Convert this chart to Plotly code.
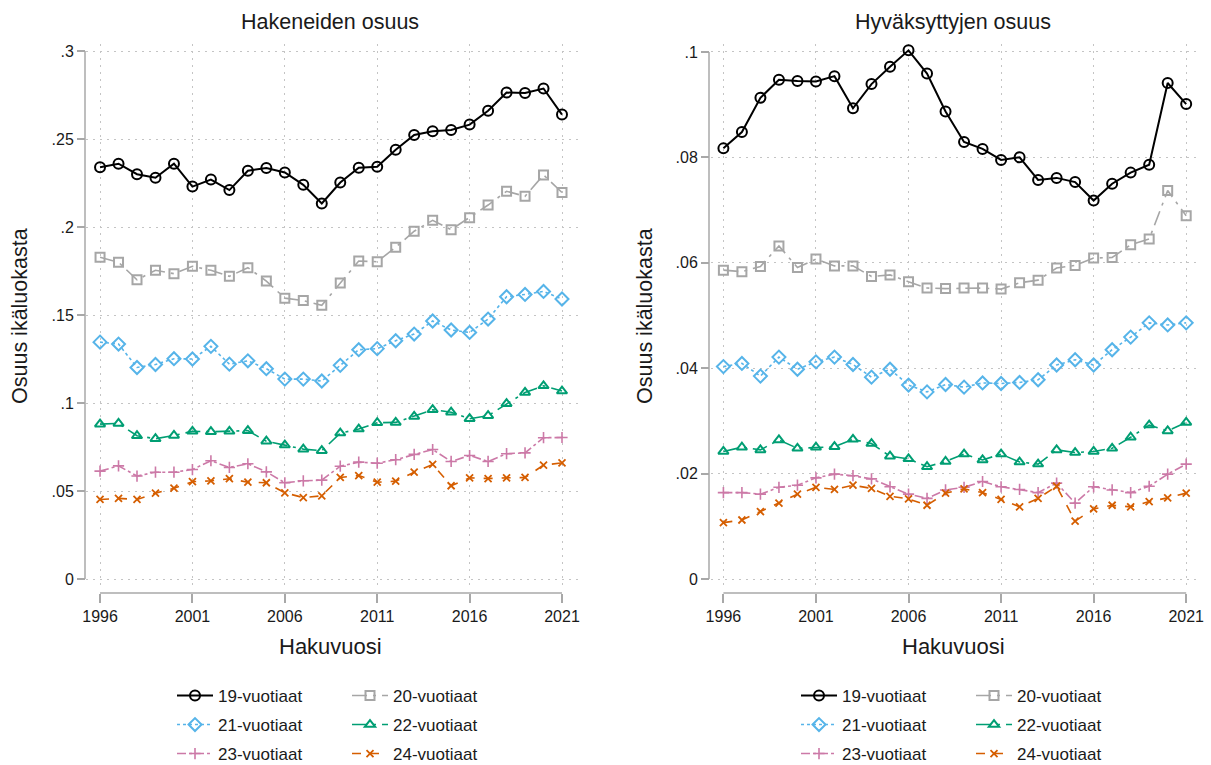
import plotly.graph_objects as go

W, H = 1211, 765

years = list(range(1996, 2022))
labels = ["19-vuotiaat", "20-vuotiaat", "21-vuotiaat", "22-vuotiaat", "23-vuotiaat", "24-vuotiaat"]

# Hakeneiden osuus (left panel)
hak_19 = [0.234, 0.236, 0.230, 0.228, 0.236, 0.223, 0.227, 0.221, 0.232, 0.2335, 0.231, 0.224, 0.2134,
          0.2253, 0.2337, 0.2343, 0.2439, 0.2523, 0.2544, 0.2551, 0.2582, 0.2661, 0.2764, 0.2762, 0.2787, 0.2639]
hak_20 = [0.1828, 0.180, 0.170, 0.1754, 0.1735, 0.1777, 0.1754, 0.172, 0.1769, 0.1693, 0.1596, 0.1582, 0.1555,
          0.1682, 0.1807, 0.1803, 0.1885, 0.1976, 0.2038, 0.1985, 0.2053, 0.2125, 0.2203, 0.2175, 0.2296, 0.2196]
hak_21 = [0.1346, 0.1335, 0.1202, 0.1219, 0.1252, 0.125, 0.1322, 0.1221, 0.124, 0.1195, 0.1136, 0.1136, 0.1125,
          0.1214, 0.1303, 0.1309, 0.1354, 0.1392, 0.1466, 0.1415, 0.1401, 0.1477, 0.1604, 0.1617, 0.1634, 0.1591]
hak_22 = [0.088, 0.0884, 0.0814, 0.0797, 0.0816, 0.0839, 0.0837, 0.0839, 0.0843, 0.0783, 0.0761, 0.0738, 0.0729,
          0.0829, 0.0852, 0.0888, 0.089, 0.0924, 0.0962, 0.0948, 0.0911, 0.0928, 0.0996, 0.106, 0.1098, 0.1068]
hak_23 = [0.0613, 0.0643, 0.0585, 0.0607, 0.0607, 0.0622, 0.0672, 0.0634, 0.0655, 0.0609, 0.0547, 0.0558, 0.0562,
          0.0641, 0.0664, 0.0658, 0.0678, 0.0708, 0.0736, 0.0668, 0.0702, 0.0668, 0.0712, 0.0717, 0.0803, 0.0804]
hak_24 = [0.0452, 0.0458, 0.0452, 0.0488, 0.0516, 0.0553, 0.0558, 0.057, 0.055, 0.0547, 0.049, 0.0463, 0.0473,
          0.0577, 0.0588, 0.055, 0.0556, 0.0607, 0.0651, 0.053, 0.0575, 0.0571, 0.0575, 0.0577, 0.0647, 0.066]

# Hyväksyttyjen osuus (right panel)
hyv_19 = [0.0817, 0.0848, 0.0913, 0.0947, 0.0945, 0.0944, 0.0954, 0.0893, 0.0939, 0.0972, 0.1003, 0.0959, 0.0887,
          0.0829, 0.0816, 0.0795, 0.0800, 0.0757, 0.0761, 0.0753, 0.0718, 0.0750, 0.0771, 0.0786, 0.0941, 0.0901]
hyv_20 = [0.0586, 0.0583, 0.0593, 0.0632, 0.0591, 0.0607, 0.0594, 0.0594, 0.0574, 0.0577, 0.0564, 0.0552, 0.0551,
          0.0552, 0.0552, 0.0550, 0.0562, 0.0567, 0.0590, 0.0595, 0.0609, 0.0610, 0.0634, 0.0645, 0.0737, 0.0689]
hyv_21 = [0.0403, 0.0409, 0.0385, 0.0421, 0.0398, 0.0412, 0.0421, 0.0407, 0.0383, 0.0398, 0.0368, 0.0355, 0.0369,
          0.0364, 0.0372, 0.0371, 0.0373, 0.0378, 0.0406, 0.0416, 0.0406, 0.0435, 0.0459, 0.0486, 0.0482, 0.0486]
hyv_22 = [0.0242, 0.0250, 0.0245, 0.0264, 0.0248, 0.0250, 0.0251, 0.0265, 0.0257, 0.0233, 0.0228, 0.0213, 0.0223,
          0.0237, 0.0226, 0.0237, 0.0222, 0.0218, 0.0245, 0.0240, 0.0242, 0.0248, 0.0269, 0.0292, 0.0281, 0.0297]
hyv_23 = [0.0164, 0.0164, 0.0161, 0.0174, 0.0178, 0.0192, 0.0199, 0.0196, 0.0190, 0.0175, 0.0161, 0.0153, 0.0169,
          0.0174, 0.0185, 0.0175, 0.0170, 0.0164, 0.0182, 0.0144, 0.0175, 0.0169, 0.0164, 0.0176, 0.0199, 0.0218]
hyv_24 = [0.0107, 0.0112, 0.0128, 0.0144, 0.0161, 0.0174, 0.0170, 0.0178, 0.0172, 0.0157, 0.0152, 0.0140, 0.0163,
          0.0171, 0.0164, 0.0151, 0.0137, 0.0153, 0.0176, 0.0110, 0.0133, 0.0140, 0.0137, 0.0147, 0.0154, 0.0163]

x_ticks = [1996, 2001, 2006, 2011, 2016, 2021]
y1_ticks = [0, 0.05, 0.1, 0.15, 0.2, 0.25, 0.3]
y1_text = ["0", ".05", ".1", ".15", ".2", ".25", ".3"]
y2_ticks = [0, 0.02, 0.04, 0.06, 0.08, 0.1]
y2_text = ["0", ".02", ".04", ".06", ".08", ".1"]

titles = ["Hakeneiden osuus", "Hyväksyttyjen osuus"]
x_title = "Hakuvuosi"
y_title = "Osuus ikäluokasta"

colors = ["#000000", "#a6a6a6", "#56b4e9", "#009e73", "#cc79a7", "#d55e00"]
symbols = ["circle-open", "square-open", "diamond-open", "triangle-up-open", "cross-thin-open", "x-thin-open"]
msizes = [10, 9, 10, 9, 8, 7]
mlw = [2, 2, 2, 2, 1.6, 1.8]
dashes = ["solid", "longdashdot", "dot", "longdashdot", "dashdot", "dash"]

FONT = "Liberation Sans, Arial, sans-serif"
TXT = "#1a1a1a"
AX = "#a8a8a8"
GRID = "#c4c4c4"


def px(x):
    return x / W


def py(y):
    return 1 - y / H


fig = go.Figure()

panels = [
    dict(data=[hak_19, hak_20, hak_21, hak_22, hak_23, hak_24], xa="x", ya="y", legs=["legend", "legend2", "legend3"]),
    dict(data=[hyv_19, hyv_20, hyv_21, hyv_22, hyv_23, hyv_24], xa="x2", ya="y2", legs=["legend4", "legend5", "legend6"]),
]

for p, panel in enumerate(panels):
    for i, vals in enumerate(panel["data"]):
        fig.add_trace(go.Scatter(
            x=years, y=vals, mode="lines+markers", name=labels[i],
            xaxis=panel["xa"], yaxis=panel["ya"], legend=panel["legs"][i // 2],
            line=dict(color=colors[i], width=2 if i == 0 else 1.6, dash=dashes[i]),
            marker=dict(symbol=symbols[i], size=msizes[i], color=colors[i],
                        line=dict(color=colors[i], width=mlw[i])),
            showlegend=True, hoverinfo="x+y",
        ))

# geometry (pixels)
geo = [
    dict(xd=(86, 579), yaxis_x=85, xr=(1995.24, 2021.92), yr=(-0.0051, 0.304), ymax=0.3,
         yt=y1_ticks, ytx=y1_text, cx=330, ytitle_x=20, legx=172),
    dict(xd=(711, 1201), yaxis_x=709, xr=(1995.33, 2021.80), yr=(-0.0017, 0.1015), ymax=0.1,
         yt=y2_ticks, ytx=y2_text, cx=953, ytitle_x=645, legx=796),
]
yd = (py(588), py(44))
xaxis_pos = py(593)

layout = dict(
    width=W, height=H, margin=dict(l=0, r=0, t=0, b=0, autoexpand=False),
    paper_bgcolor="white", plot_bgcolor="white",
    font=dict(family=FONT, color=TXT, size=16),
    showlegend=True, shapes=[], annotations=[],
)

for p, g in enumerate(geo):
    sx = "" if p == 0 else "2"
    layout["xaxis" + sx] = dict(
        domain=[px(g["xd"][0]), px(g["xd"][1])], range=list(g["xr"]),
        anchor="free", position=xaxis_pos, automargin=False,
        tickvals=x_ticks, ticktext=[str(t) for t in x_ticks],
        ticks="outside", ticklen=9, tickwidth=1.5, tickcolor=AX,
        tickfont=dict(size=16, color=TXT, family=FONT),
        showline=False, zeroline=False,
        showgrid=True, gridcolor=GRID, gridwidth=1, griddash="2px,5px",
    )
    layout["yaxis" + sx] = dict(
        domain=list(yd), range=list(g["yr"]),
        anchor="free", position=px(g["yaxis_x"]), automargin=False,
        tickvals=g["yt"], ticktext=g["ytx"],
        ticks="outside", ticklen=8, tickwidth=1.5, tickcolor=AX,
        tickfont=dict(size=16, color=TXT, family=FONT),
        showline=False, zeroline=False,
        showgrid=True, gridcolor=GRID, gridwidth=1, griddash="2px,5px",
    )
    xref = "x" + sx
    yref = "y" + sx
    # axis lines (offset Stata style)
    layout["shapes"].append(dict(type="line", xref=xref, yref="paper", x0=1996, x1=2021,
                                 y0=xaxis_pos, y1=xaxis_pos, line=dict(color=AX, width=1.5)))
    layout["shapes"].append(dict(type="line", xref="paper", yref=yref, x0=px(g["yaxis_x"]), x1=px(g["yaxis_x"]),
                                 y0=0, y1=g["ymax"], line=dict(color=AX, width=1.5)))
    # titles
    layout["annotations"].append(dict(text=titles[p], xref="paper", yref="paper", x=px(g["cx"]), y=py(22),
                                      showarrow=False, xanchor="center", yanchor="middle",
                                      font=dict(size=21.5, color=TXT, family=FONT)))
    layout["annotations"].append(dict(text=x_title, xref="paper", yref="paper", x=px(g["cx"]), y=py(646),
                                      showarrow=False, xanchor="center", yanchor="middle",
                                      font=dict(size=22, color=TXT, family=FONT)))
    layout["annotations"].append(dict(text=y_title, xref="paper", yref="paper", x=px(g["ytitle_x"]), y=py(316),
                                      showarrow=False, xanchor="center", yanchor="middle", textangle=-90,
                                      font=dict(size=21.5, color=TXT, family=FONT)))
    # legends: three rows of two entries
    for r, yrow in enumerate([696, 725, 754]):
        name = ["legend", "legend2", "legend3", "legend4", "legend5", "legend6"][p * 3 + r]
        layout[name] = dict(
            orientation="h", x=px(g["legx"]), xanchor="left", y=py(yrow), yanchor="middle",
            entrywidth=124, entrywidthmode="pixels", itemwidth=36,
            bgcolor="rgba(0,0,0,0)", borderwidth=0,
            font=dict(size=17, color=TXT, family=FONT),
        )

fig.update_layout(**layout)
fig.write_html(
    "out.html",
    config={"displayModeBar": False},
    post_script="document.body.style.margin='0';document.body.style.padding='0';document.body.style.overflow='hidden';",
)
